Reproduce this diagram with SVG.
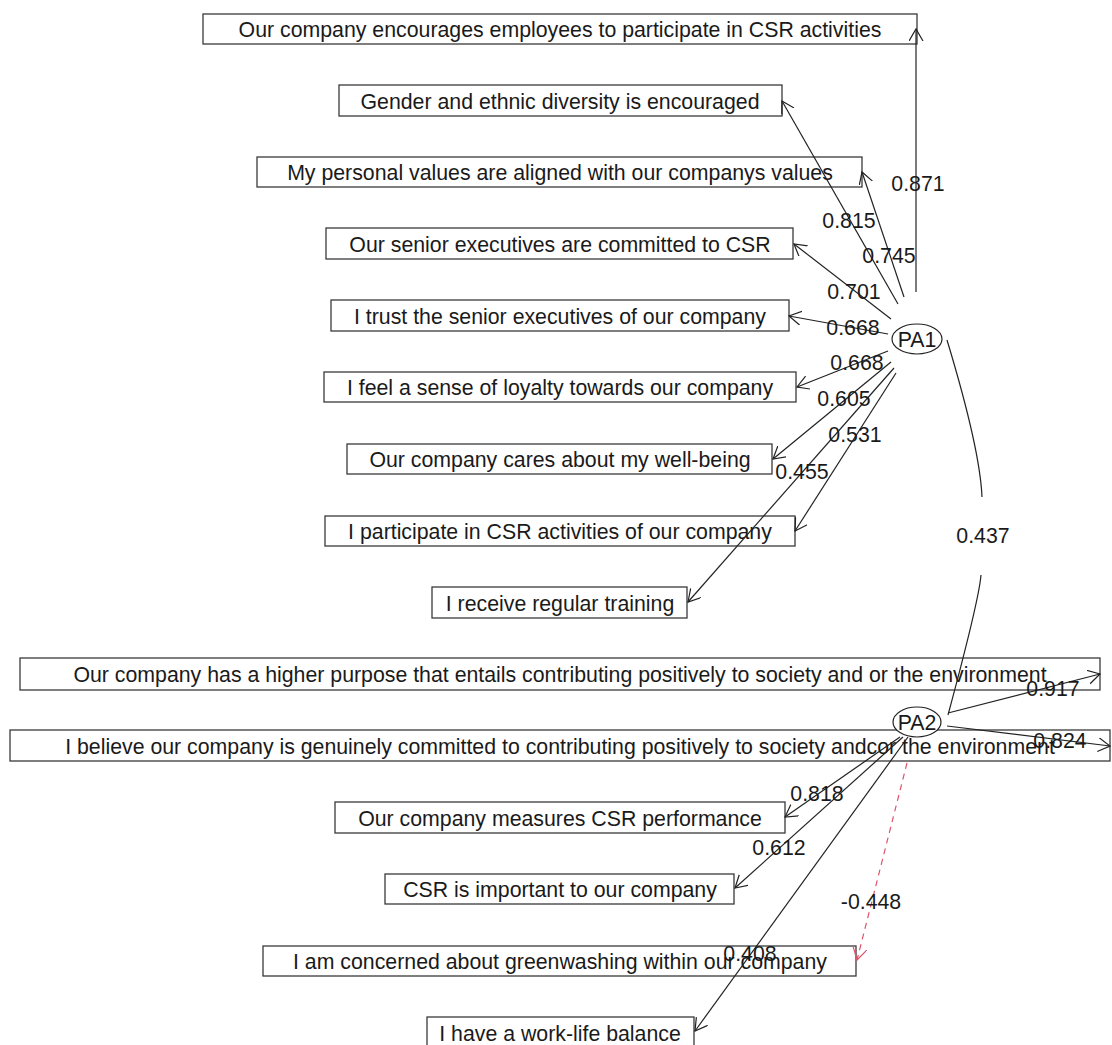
<svg xmlns="http://www.w3.org/2000/svg" width="1112" height="1045" viewBox="0 0 1112 1045">
  <style>
    .box { fill: #ffffff; stroke: #3a3a3a; stroke-width: 1.3; }
    .fac { fill: #ffffff; stroke: #222222; stroke-width: 1.2; }
    text { font-family: "Liberation Sans", Arial, sans-serif; font-size: 21.3px; fill: #1a1a1a; text-anchor: middle; }
    .ln { stroke: #222222; stroke-width: 1.2; fill: none; marker-end: url(#arr); }
    .neg { stroke: #df536b; stroke-width: 1.2; fill: none; stroke-dasharray: 6 5; marker-end: url(#arrRed); }
    .cor { stroke: #222222; stroke-width: 1.2; fill: none; }
  </style>
  <defs>
    <marker id="arr" markerUnits="userSpaceOnUse" markerWidth="14" markerHeight="16" refX="12" refY="7" orient="auto" viewBox="0 0 14 16">
      <path d="M0,0 L12,7 L0,14" fill="none" stroke="#222222" stroke-width="1.2"/>
    </marker>
    <marker id="arrRed" markerUnits="userSpaceOnUse" markerWidth="14" markerHeight="16" refX="12" refY="7" orient="auto" viewBox="0 0 14 16">
      <path d="M0,0 L12,7 L0,14" fill="none" stroke="#df536b" stroke-width="1.2"/>
    </marker>
  </defs>

  <!-- indicator boxes -->
  <g id="v1"><rect class="box" x="203" y="14" width="714" height="30"/><text x="560" y="36.5">Our company encourages employees to participate in CSR activities</text></g>
  <g id="v2"><rect class="box" x="339" y="85" width="443" height="31"/><text x="560" y="108.5">Gender and ethnic diversity is encouraged</text></g>
  <g id="v3"><rect class="box" x="257" y="157" width="605" height="30"/><text x="560" y="179.5">My personal values are aligned with our companys values</text></g>
  <g id="v4"><rect class="box" x="326" y="228" width="467" height="31"/><text x="560" y="251.5">Our senior executives are committed to CSR</text></g>
  <g id="v5"><rect class="box" x="331" y="300" width="458" height="31"/><text x="560" y="323.5">I trust the senior executives of our company</text></g>
  <g id="v6"><rect class="box" x="324" y="372" width="472" height="30"/><text x="560" y="394.5">I feel a sense of loyalty towards our company</text></g>
  <g id="v7"><rect class="box" x="347" y="444" width="425" height="30"/><text x="560" y="466.5">Our company cares about my well-being</text></g>
  <g id="v8"><rect class="box" x="325" y="516" width="470" height="30"/><text x="560" y="538.5">I participate in CSR activities of our company</text></g>
  <g id="v9"><rect class="box" x="432" y="587" width="255" height="31"/><text x="560" y="610.5">I receive regular training</text></g>
  <g id="v10"><rect class="box" x="20" y="658" width="1080" height="32"/><text x="560" y="681.5">Our company has a higher purpose that entails contributing positively to society and or the environment</text></g>
  <g id="v11"><rect class="box" x="10" y="730" width="1100" height="31"/><text x="560" y="753.5">I believe our company is genuinely committed to contributing positively to society andcor the environment</text></g>
  <g id="v12"><rect class="box" x="335" y="802" width="450" height="31"/><text x="560" y="825.5">Our company measures CSR performance</text></g>
  <g id="v13"><rect class="box" x="385" y="874" width="349" height="30"/><text x="560" y="896.5">CSR is important to our company</text></g>
  <g id="v14"><rect class="box" x="263" y="946" width="593" height="30"/><text x="560" y="968.5">I am concerned about greenwashing within our company</text></g>
  <g id="v15"><rect class="box" x="427" y="1017" width="267" height="32"/><text x="560" y="1040.5">I have a work-life balance</text></g>

  <!-- factors -->
  <g id="PA1"><ellipse class="fac" cx="917" cy="339" rx="25" ry="15"/><text x="917" y="347">PA1</text></g>
  <g id="PA2"><ellipse class="fac" cx="917" cy="722" rx="24" ry="15"/><text x="917" y="730">PA2</text></g>

  <!-- loadings and factor correlation -->
  <g id="connectors">
    <line class="ln" x1="916" y1="292" x2="916" y2="29"/>
    <line class="ln" x1="898" y1="304" x2="782" y2="101"/>
    <line class="ln" x1="904" y1="297" x2="862" y2="172"/>
    <line class="ln" x1="891" y1="319" x2="794" y2="244"/>
    <line class="ln" x1="888" y1="334" x2="789" y2="316"/>
    <line class="ln" x1="888" y1="351" x2="797" y2="387"/>
    <line class="ln" x1="891" y1="362" x2="773" y2="459"/>
    <line class="ln" x1="896" y1="373" x2="795" y2="531"/>
    <line class="ln" x1="894" y1="368" x2="688" y2="602"/>

    <line class="ln" x1="948" y1="713" x2="1100" y2="674"/>
    <line class="ln" x1="947" y1="726" x2="1110" y2="746"/>
    <line class="ln" x1="900" y1="737" x2="785" y2="817"/>
    <line class="ln" x1="903" y1="737" x2="735" y2="888"/>
    <line class="ln" x1="908" y1="737" x2="695" y2="1031"/>
    <line class="neg" x1="907" y1="763" x2="857" y2="960"/>

    <path class="cor" d="M947,340 Q980,449 982,497"/>
    <path class="cor" d="M981,575 Q979,600 948,715"/>

    <text x="918" y="191">0.871</text>
    <text x="849" y="228">0.815</text>
    <text x="889" y="263">0.745</text>
    <text x="854" y="299">0.701</text>
    <text x="853" y="335">0.668</text>
    <text x="857" y="370">0.668</text>
    <text x="844" y="406">0.605</text>
    <text x="855" y="442">0.531</text>
    <text x="802" y="479">0.455</text>
    <text x="983" y="543">0.437</text>
    <text x="1053" y="696">0.917</text>
    <text x="1060" y="748">0.824</text>
    <text x="817" y="801">0.818</text>
    <text x="779" y="855">0.612</text>
    <text x="871" y="909">-0.448</text>
    <text x="750" y="961">0.408</text>
  </g>
</svg>
